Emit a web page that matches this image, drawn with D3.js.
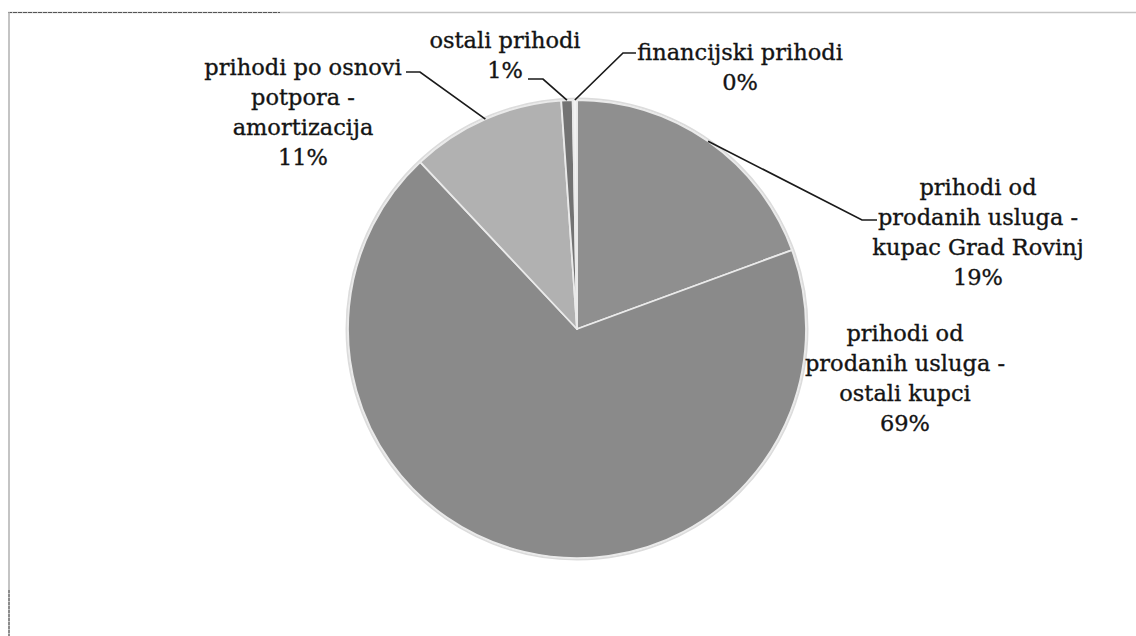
<!DOCTYPE html>
<html>
<head>
<meta charset="utf-8">
<script src="https://cdn.jsdelivr.net/npm/d3@7/dist/d3.min.js"></script>
<style>
  html, body { margin: 0; padding: 0; background: #fff; }
  svg { display: block; }
  .lbl { font-family: "DejaVu Serif", serif; font-size: 22.5px; fill: #141414; stroke: #141414; stroke-width: 0.35px; }
</style>
</head>
<body>
<svg id="chart" width="1136" height="636"></svg>
<script>
// ---- data ----
const categories = [
  "prihodi od prodanih usluga - kupac Grad Rovinj",
  "prihodi od prodanih usluga - ostali kupci",
  "prihodi po osnovi potpora - amortizacija",
  "ostali prihodi",
  "financijski prihodi"
];
const values = [19.4, 68.6, 10.9, 0.8, 0.3];
const percentLabels = ["19%", "69%", "11%", "1%", "0%"];
const labelLines = [
  ["prihodi od", "prodanih usluga -", "kupac Grad Rovinj", "19%"],
  ["prihodi od", "prodanih usluga -", "ostali kupci", "69%"],
  ["prihodi po osnovi", "potpora -", "amortizacija", "11%"],
  ["ostali prihodi", "1%"],
  ["financijski prihodi", "0%"]
];

// ---- layout / style (not data) ----
const colors = ["#8f8f8f", "#8a8a8a", "#b1b1b1", "#737373", "#f2f2f2"];
const W = 1136, H = 636;
const cx = 577, cy = 329, R = 229;
const lineH = 30;
// label anchor (center x, first line center y) and leader elbow points
const labelPos = [
  { x: 978, y: 187, elbow: [[862, 220], [877, 220]] },
  { x: 905, y: 333, elbow: null },
  { x: 303, y: 67,  elbow: [[420, 72], [406, 72]] },
  { x: 505, y: 40,  elbow: [[543, 79], [528, 79]] },
  { x: 740, y: 52,  elbow: [[623, 53], [636, 53]] }
];

const svg = d3.select("#chart");

// frame lines (scanned page edges)
svg.append("line").attr("x1", 8).attr("x2", W).attr("y1", 12.5).attr("y2", 12.5)
  .attr("stroke", "#c4c4c4").attr("stroke-width", 1.5);
svg.append("line").attr("x1", 8).attr("x2", 280).attr("y1", 12.5).attr("y2", 12.5)
  .attr("stroke", "#555").attr("stroke-width", 1).attr("stroke-dasharray", "4,1");
svg.append("line").attr("x1", 9).attr("x2", 9).attr("y1", 12).attr("y2", H)
  .attr("stroke", "#b0b0b0").attr("stroke-width", 1.5);
svg.append("line").attr("x1", 9).attr("x2", 9).attr("y1", 590).attr("y2", H)
  .attr("stroke", "#555").attr("stroke-width", 1).attr("stroke-dasharray", "3,1");

const data = categories.map((c, i) => ({ name: c, value: values[i], i }));
const pie = d3.pie().value(d => d.value).sort(null).startAngle(0).endAngle(2 * Math.PI);
const arcs = pie(data);
const arc = d3.arc().innerRadius(0).outerRadius(R);
const edgeArc = d3.arc().innerRadius(R).outerRadius(R);

const g = svg.append("g").attr("transform", `translate(${cx},${cy})`);

// soft outer edge
g.append("circle").attr("r", R + 1.5).attr("fill", "none").attr("stroke", "#dcdcdc").attr("stroke-width", 2);

g.selectAll("path.slice").data(arcs).enter().append("path")
  .attr("class", "slice")
  .attr("d", arc)
  .attr("fill", d => colors[d.data.i])
  .attr("stroke", "#eaeaea")
  .attr("stroke-width", 1.8)
  .attr("stroke-linejoin", "round");

// leader lines
arcs.forEach(d => {
  const lp = labelPos[d.data.i];
  if (!lp.elbow) return;
  const c = edgeArc.centroid(d);
  const p0 = [cx + c[0], cy + c[1]];
  const pts = [p0].concat(lp.elbow);
  svg.append("path")
    .attr("d", d3.line()(pts))
    .attr("fill", "none")
    .attr("stroke", "#1a1a1a")
    .attr("stroke-width", 1.7);
});

// labels
labelLines.forEach((lines, i) => {
  const lp = labelPos[i];
  const t = svg.append("text").attr("class", "lbl").attr("text-anchor", "middle");
  lines.forEach((ln, k) => {
    t.append("tspan").attr("x", lp.x).attr("y", lp.y + k * lineH).attr("dy", "0.36em").text(ln);
  });
});
</script>
</body>
</html>
